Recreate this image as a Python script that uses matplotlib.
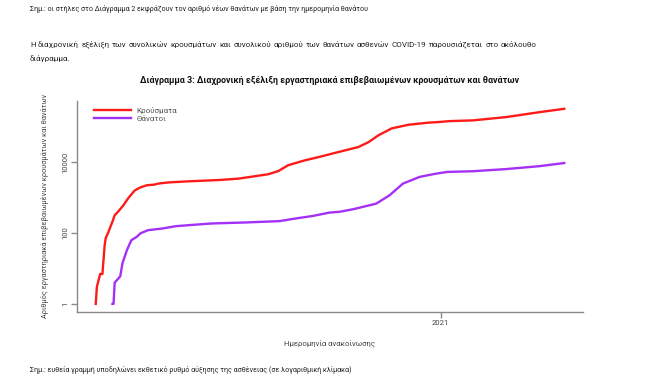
import matplotlib
matplotlib.use("Agg")
import matplotlib.pyplot as plt
import matplotlib.ticker as mticker
import numpy as np
import pandas as pd

plt.rcParams['font.family'] = ['Roboto', 'DejaVu Sans']

# ---- data ----
case_dates = ["2020-02-26", "2020-02-27", "2020-02-28", "2020-03-01", "2020-03-03",
              "2020-03-05", "2020-03-06", "2020-03-08", "2020-03-12", "2020-03-14",
              "2020-03-17", "2020-03-22", "2020-03-26", "2020-04-01", "2020-04-06",
              "2020-04-12", "2020-04-19", "2020-04-22", "2020-05-01", "2020-05-19",
              "2020-06-15", "2020-07-03", "2020-07-30", "2020-08-08", "2020-08-17",
              "2020-09-01", "2020-09-13", "2020-09-22", "2020-10-01", "2020-10-19",
              "2020-10-28", "2020-11-06", "2020-11-18", "2020-12-03", "2020-12-21",
              "2020-12-31", "2021-01-09", "2021-01-30", "2021-03-01", "2021-03-31",
              "2021-04-22"]
cases = [1, 3, 4, 7, 7,
         45, 73, 100, 210, 320,
         400, 620, 950, 1600, 1950,
         2250, 2350, 2500, 2700, 2900,
         3150, 3450, 4600, 5650, 8300,
         11400, 14000, 16500, 19500, 27000,
         37000, 58000, 91000, 115000, 132000,
         138000, 146000, 153000, 190000, 262000,
         325000]

death_dates = ["2020-03-12", "2020-03-13", "2020-03-14", "2020-03-19", "2020-03-21",
               "2020-03-25", "2020-03-29", "2020-04-03", "2020-04-06", "2020-04-13",
               "2020-04-26", "2020-05-08", "2020-05-20", "2020-06-09", "2020-07-10",
               "2020-08-09", "2020-08-24", "2020-09-08", "2020-09-23", "2020-10-02",
               "2020-10-14", "2020-11-04", "2020-11-16", "2020-11-28", "2020-12-13",
               "2020-12-28", "2021-01-07", "2021-01-30", "2021-03-01", "2021-03-31",
               "2021-04-22"]
deaths = [1, 1, 4, 6, 14,
          33, 63, 79, 98, 121,
          135, 157, 168, 187, 200,
          218, 260, 305, 380, 400,
          470, 680, 1170, 2500, 3870,
          4800, 5350, 5600, 6450, 7800,
          9550]

series_labels = ["Κρούσματα", "Θάνατοι"]
y_ticks = [1, 100, 10000]
y_tick_labels = ["1", "100", "10000"]
x_ticks = ["2021-01-01"]
x_tick_labels = ["2021"]

note_top = "Σημ.: οι στήλες στο Διάγραμμα 2 εκφράζουν τον αριθμό νέων θανάτων με βάση την ημερομηνία θανάτου"
para1 = "Η διαχρονική εξέλιξη των συνολικών κρουσμάτων και συνολικού αριθμού των θανάτων ασθενών COVID-19 παρουσιάζεται στο ακόλουθο"
para2 = "διάγραμμα."
title = "Διάγραμμα 3: Διαχρονική εξέλιξη εργαστηριακά επιβεβαιωμένων κρουσμάτων και θανάτων"
ylabel = "Αριθμός εργαστηριακά επιβεβαιωμένων κρουσμάτων και θανάτων"
xlabel = "Ημερομηνία ανακοίνωσης"
note_bottom = "Σημ.: ευθεία γραμμή υποδηλώνει εκθετικό ρυθμό αύξησης της ασθένειας (σε λογαριθμική κλίμακα)"

# ---- figure ----
W, H = 650, 387
fig = plt.figure(figsize=(W / 100, H / 100), dpi=100)
fig.patch.set_facecolor("white")


def fx(px):
    return px / W


def fy(py):
    return 1 - py / H


ax = fig.add_axes([fx(77), fy(311.7), fx(583) - fx(77), fy(101) - fy(311.7)])

cd = pd.to_datetime(case_dates)
dd = pd.to_datetime(death_dates)
ax.plot(cd, cases, color="#FF1A1A", lw=1.7, label=series_labels[0], solid_joinstyle="round")
ax.plot(dd, deaths, color="#A530F5", lw=1.7, label=series_labels[1], solid_joinstyle="round")

ax.set_yscale("log")
lo, hi = np.log10(1), np.log10(max(cases))
pad = 0.04 * (hi - lo)
ax.set_ylim(10 ** (lo - pad), 10 ** (hi + pad))
start, end = cd.min(), cd.max()
xpad = (end - start) * 0.04
ax.set_xlim(start - xpad, end + xpad)

ax.yaxis.set_major_locator(mticker.FixedLocator(y_ticks))
ax.yaxis.set_minor_locator(mticker.NullLocator())
ax.set_yticklabels(y_tick_labels, rotation=90, va="center")
ax.set_xticks(pd.to_datetime(x_ticks))
ax.set_xticklabels(x_tick_labels)
ax.xaxis.set_minor_locator(mticker.NullLocator())

spine_col = "#8a8a8a"
for s in ["top", "right"]:
    ax.spines[s].set_visible(False)
for s in ["left", "bottom"]:
    ax.spines[s].set_color(spine_col)
    ax.spines[s].set_linewidth(1.0)
ax.tick_params(axis="both", colors=spine_col, length=4, width=1.0, labelsize=5.5,
               labelcolor="#444444", pad=2)

leg = ax.legend(loc="upper left", bbox_to_anchor=(0.022, 1.0), frameon=False,
                fontsize=5.8, handlelength=4.6, handletextpad=0.7, labelspacing=0.15,
                borderaxespad=0.3)
for t in leg.get_texts():
    t.set_color("#555555")

body_fs = 5.15
para_fs = 5.8
body_col = "#222222"

# texts
fig.text(fx(30), fy(9), note_top, fontsize=body_fs, color=body_col, va="center", ha="left")

# justified first paragraph line (30 px .. 537 px), words on a common baseline
renderer = fig.canvas.get_renderer()
words = para1.split(" ")
widths = []
for w in words:
    t = fig.text(0, 0, w, fontsize=para_fs)
    widths.append(t.get_window_extent(renderer).width)
    t.remove()
left_px, right_px = 30, 537
gap = (right_px - left_px - sum(widths)) / (len(words) - 1)
xcur = left_px
word_texts = []
for w, wd in zip(words, widths):
    word_texts.append(fig.text(fx(xcur), fy(47), w, fontsize=para_fs, color=body_col,
                               va="baseline", ha="left"))
    xcur += wd + gap

fig.text(fx(30), fy(61), para2, fontsize=para_fs, color=body_col, va="baseline", ha="left")
fig.text(fx(330), fy(80), title, fontsize=6.4, fontweight="bold", color="#111111",
         va="center", ha="center")
fig.text(fx(45), fy(206), ylabel, fontsize=5.3, color="#444444", rotation=90,
         va="center", ha="center")
fig.text(fx(330), fy(343), xlabel, fontsize=5.6, color="#444444", va="center", ha="center")
fig.text(fx(30), fy(370), note_bottom, fontsize=body_fs, color=body_col, va="center", ha="left")

# even out rasterised baselines of the justified words (small-size hinting drift);
# only multi-letter lowercase-dominated words are measured, short/capital words stay put
fig.canvas.draw()
buf = np.asarray(fig.canvas.buffer_rgba())[:, :, :3].astype(float)
ink = 255.0 - buf.mean(axis=2)
base_rows = []
for t in word_texts:
    s = t.get_text()
    if len(s) < 3 or s.isupper():
        base_rows.append(np.nan)
        continue
    bb = t.get_window_extent(renderer)
    c0, c1 = int(np.floor(bb.x0)), int(np.ceil(bb.x1))
    r0 = max(int(np.floor(H - bb.y1)) - 1, 0)
    r1 = min(int(np.ceil(H - bb.y0)) + 2, H)
    prof = ink[r0:r1, c0:c1].sum(axis=1)
    if prof.max() <= 0:
        base_rows.append(np.nan)
        continue
    idx = np.where(prof >= 0.5 * prof.max())[0]
    base_rows.append(r0 + idx.max())
target = float(np.nanmedian(base_rows))
for t, br in zip(word_texts, base_rows):
    if np.isfinite(br) and br != target:
        xpos, ypos = t.get_position()
        t.set_position((xpos, ypos + (br - target) / H))

fig.savefig("out.png", dpi=100, facecolor="white")
